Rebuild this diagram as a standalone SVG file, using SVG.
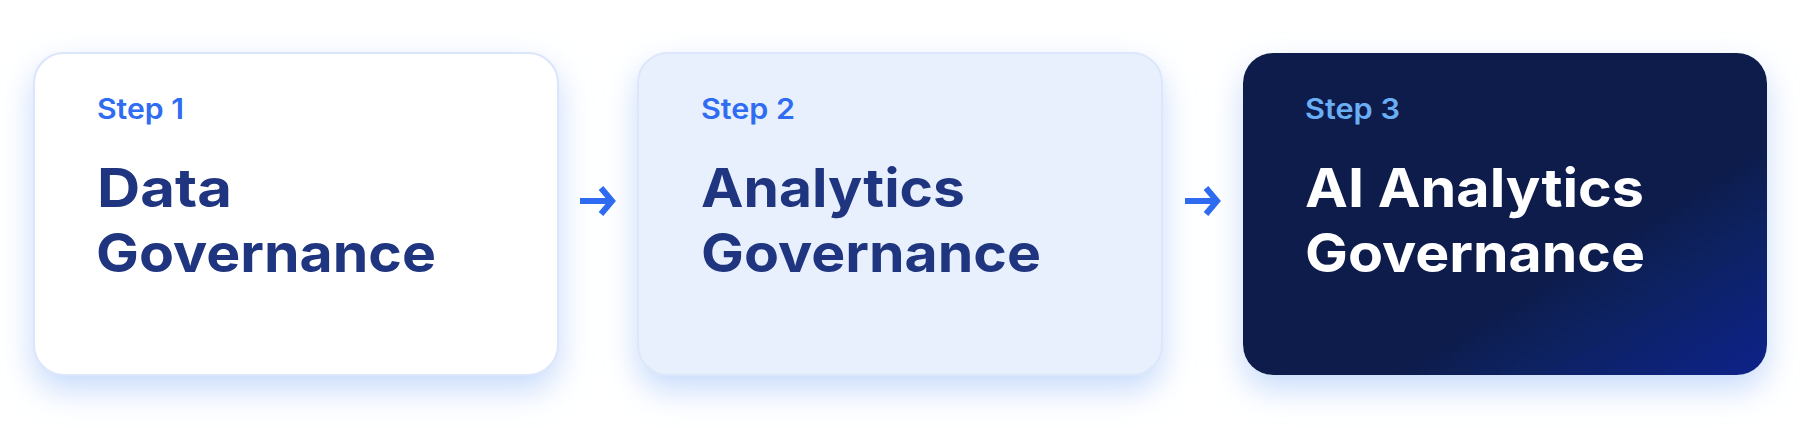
<svg xmlns="http://www.w3.org/2000/svg" width="1800" height="428" viewBox="0 0 1800 428">
  <defs>
    <filter id="shadow" x="-20%" y="-30%" width="140%" height="170%">
      <feDropShadow dx="0" dy="14" stdDeviation="16" flood-color="#b9d2fa" flood-opacity="0.8"/>
    </filter>
    <linearGradient id="darkGrad" x1="0" y1="0" x2="1" y2="1">
      <stop offset="0" stop-color="#0f1f4b"/>
      <stop offset="0.64" stop-color="#0f1f4c"/>
      <stop offset="1" stop-color="#09228a"/>
    </linearGradient>
    <style>
      .card { filter: url(#shadow); }
      .step { font-family: Inter, "Open Sans", "Liberation Sans", sans-serif; font-weight: 600; font-size: 28px; fill: #2f6cf2; }
      .title { font-family: Inter, "Open Sans", "Liberation Sans", sans-serif; font-weight: 700; font-size: 54px; fill: #1f3580; }
      .dark .step { fill: #6aaef5; }
      .dark .title { fill: #ffffff; }
      .arrow { fill: none; stroke: #2f6bf0; stroke-width: 6; stroke-linejoin: miter; stroke-linecap: butt; }
    </style>
  </defs>
  <rect width="1800" height="428" fill="#ffffff"/>

  <g id="step1">
    <rect class="card" x="34" y="53" width="524" height="322" rx="30" fill="#ffffff" stroke="#dbe5fb" stroke-width="2"/>
    <text class="step" x="97" y="119" textLength="87" lengthAdjust="spacingAndGlyphs">Step 1</text>
    <text class="title" x="97" y="207" textLength="135" lengthAdjust="spacingAndGlyphs">Data</text>
    <text class="title" x="96" y="272" textLength="340" lengthAdjust="spacingAndGlyphs">Governance</text>
  </g>

  <g id="step2">
    <rect class="card" x="638" y="53" width="524" height="322" rx="30" fill="#e8f0fd" stroke="#dde7fb" stroke-width="2"/>
    <text class="step" x="701" y="119" textLength="94" lengthAdjust="spacingAndGlyphs">Step 2</text>
    <text class="title" x="701" y="207" textLength="264" lengthAdjust="spacingAndGlyphs">Analytics</text>
    <text class="title" x="701" y="272" textLength="340" lengthAdjust="spacingAndGlyphs">Governance</text>
  </g>

  <g id="step3" class="dark">
    <rect class="card" x="1243" y="53" width="524" height="322" rx="30" fill="url(#darkGrad)"/>
    <text class="step" x="1305" y="119" textLength="95" lengthAdjust="spacingAndGlyphs">Step 3</text>
    <text class="title" x="1305" y="207" textLength="339" lengthAdjust="spacingAndGlyphs">AI Analytics</text>
    <text class="title" x="1305" y="272" textLength="340" lengthAdjust="spacingAndGlyphs">Governance</text>
  </g>

  <g id="connectors">
    <path class="arrow" d="M580 201 H611 M601 188 L612 201 L601 214"/>
    <path class="arrow" d="M1185 201 H1216 M1206 188 L1217 201 L1206 214"/>
  </g>
</svg>
